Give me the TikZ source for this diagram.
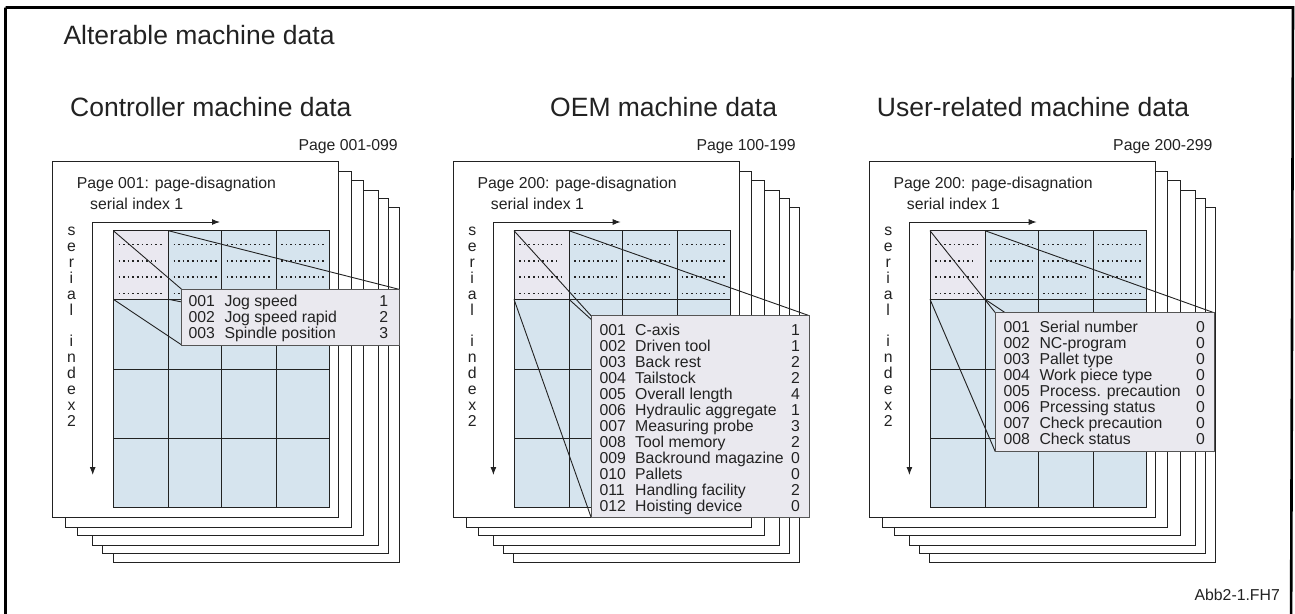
\documentclass[tikz,border=0pt]{standalone}
\usepackage{fontspec}
\setmainfont{Liberation Sans}
\usetikzlibrary{arrows.meta,fit}
\definecolor{cellblue}{HTML}{D6E4EE}
\definecolor{celllav}{HTML}{EAE8F0}
\definecolor{callfill}{HTML}{EAE9EF}
\definecolor{ink}{HTML}{222222}
\definecolor{boxedge}{HTML}{555555}

\tikzset{
  big/.style={anchor=base west, font=\fontsize{26.5}{30}\selectfont, inner sep=0pt, text=ink},
  small/.style={font=\fontsize{15.8}{18}\selectfont, inner sep=0pt, text=ink},
  pagebox/.style={draw=ink, fill=white, line width=1pt},
  gridline/.style={draw=ink, line width=1pt},
  dotrow/.style={draw=ink, line width=1.6pt, dash pattern=on 1.6pt off 3pt},
  axisarrow/.style={draw=ink, line width=1pt, {Latex[length=8pt,width=6pt]}-{Latex[length=8pt,width=6pt]}},
  zoomline/.style={draw=ink, line width=0.9pt},
  callout/.style={draw=boxedge, fill=callfill, line width=1pt, inner sep=0pt},
  frameline/.style={draw=black, line width=2.6pt}
}

\newcommand\stackpanel[3]{%
\begin{scope}[xshift=#1pt]
  \draw[pagebox] (113,207.3) rectangle (399,562.3);
  \draw[pagebox] (102.3,198.3) rectangle (388.3,553);
  \draw[pagebox] (92.3,190) rectangle (378.3,545.3);
  \draw[pagebox] (77.7,180) rectangle (363.3,535.3);
  \draw[pagebox] (65.3,171.7) rectangle (351,527);
  \draw[pagebox] (52.3,161.7) rectangle (338.3,517);
  \fill[cellblue] (113.3,230.7) rectangle (329.3,507.3);
  \fill[celllav] (113.3,230.7) rectangle (168.3,299.3);
  \draw[gridline] (113.3,230.7) rectangle (329.3,507.3);
  \foreach \gx in {168.3,221.7,276.3} \draw[gridline] (\gx,230.7) -- (\gx,507.3);
  \foreach \gy in {299.3,369.3,438.3} \draw[gridline] (113.3,\gy) -- (329.3,\gy);
  \foreach \dy in {244.5,260.7,277,293.3} {
    \draw[dotrow] (173.5,\dy) -- (217,\dy);
    \draw[dotrow] (226.5,\dy) -- (270.5,\dy);
    \draw[dotrow] (281,\dy) -- (325,\dy);
  }
  \foreach \dy in {244.5,277,293.3} \draw[dotrow] (118.5,\dy) -- (162,\dy);
  \draw[dotrow] (118.5,260.7) -- (156,260.7);
  \coordinate (#2-h) at (220,222);
  \coordinate (#2-o) at (92.7,222);
  \coordinate (#2-v) at (92.7,475);
  \draw[axisarrow] (#2-h) -- (#2-o) -- (#2-v);
  \foreach \l [count=\k from 0] in {s,e,r,i,a,l}
    \node[small, anchor=base] (#2-la\k) at (71.5,235.8+15.85*\k) {\l};
  \foreach \l [count=\k from 7] in {i,n,d,e,x,2}
    \node[small, anchor=base] (#2-lb\k) at (71.5,235.8+15.85*\k) {\l};
  \node[small, anchor=base west] (#2-pg) at (76.7,188.4) {Page #3: page-disagnation};
  \node[small, anchor=base west] (#2-si) at (90,209.7) {serial index 1};
  \coordinate (#2-tl) at (113.3,230.7);
  \coordinate (#2-tr) at (168.3,230.7);
  \coordinate (#2-bl) at (113.3,299.3);
  \coordinate (#2-br) at (168.3,299.3);
\end{scope}}

% #1 prefix, #2 box left, #3 box top, #4 box right, #5 box bottom
\newcommand\zoombox[5]{%
  \coordinate (#1-ctl) at (#2,#3);
  \coordinate (#1-ctr) at (#4,#3);
  \coordinate (#1-cbl) at (#2,#5);
  \coordinate (#1-cbr) at (#4,#5);
  \draw[zoomline] (#1-tl) -- (#1-ctl);
  \draw[zoomline] (#1-tr) -- (#1-ctr);
  \draw[zoomline] (#1-bl) -- (#1-cbl);
  \draw[zoomline] (#1-br) -- (#1-cbr);
  \node[callout, fit=(#1-ctl)(#1-cbr)] (#1-box) {};
}

% #1 prefix, #2 code x, #3 name x, #4 value right x, #5 first baseline, #6 step, #7 rows
\newcommand\calltable[7]{%
  \foreach \c/\n/\v [count=\i from 0] in {#7} {
    \node[small, anchor=base west] (#1-code\i) at (#2,#5+\i*#6) {\c};
    \node[small, anchor=base west] (#1-name\i) at (#3,#5+\i*#6) {\n};
    \node[small, anchor=base east] (#1-val\i) at (#4,#5+\i*#6) {\v};
  }
}

\begin{document}
\begin{tikzpicture}[x=1pt,y=-1pt]
\useasboundingbox (0,0) rectangle (1295,613);
\clip (0,0) rectangle (1295,613);
\fill[white] (0,0) rectangle (1295,613);
\draw[frameline] (5.5,7.5) -- (1293,7.5) -- (1291,650) (5.5,7.5) -- (5.5,650);

\node[big] (title) at (63.3,44.5) {Alterable machine data};
\node[big] (h1) at (70,116.5) {Controller machine data};
\node[big] (h2) at (550,116.5) {OEM machine data};
\node[big] (h3) at (876.7,116.5) {User-related machine data};
\node[small, anchor=base east] (r1) at (398,150.7) {Page 001-099};
\node[small, anchor=base east] (r2) at (796,150.7) {Page 100-199};
\node[small, anchor=base east] (r3) at (1212.7,150.7) {Page 200-299};
\node[small, anchor=base east] (abb) at (1280,600.5) {Abb2-1.FH7};

\stackpanel{0}{A}{001}
\stackpanel{400.7}{B}{200}
\stackpanel{816.7}{C}{200}

\zoombox{A}{181.7}{289.3}{399}{345}
\calltable{A}{188.3}{224.3}{388.3}{306.4}{15.9}{001/Jog speed/1, 002/Jog speed rapid/2, 003/Spindle position/3}

\zoombox{B}{591}{315.7}{809.3}{517}
\calltable{B}{599.3}{635}{800}{335.7}{16}{001/C-axis/1, 002/Driven tool/1, 003/Back rest/2, 004/Tailstock/2, 005/Overall length/4, 006/Hydraulic aggregate/1, 007/Measuring probe/3, 008/Tool memory/2, 009/Backround magazine/0, 010/Pallets/0, 011/Handling facility/2, 012/Hoisting device/0}

\zoombox{C}{995.3}{312.7}{1214}{451.7}
\calltable{C}{1003.3}{1039.3}{1205}{332.4}{15.95}{001/Serial number/0, 002/NC-program/0, 003/Pallet type/0, 004/Work piece type/0, 005/Process. precaution/0, 006/Prcessing status/0, 007/Check precaution/0, 008/Check status/0}
\end{tikzpicture}
\end{document}
